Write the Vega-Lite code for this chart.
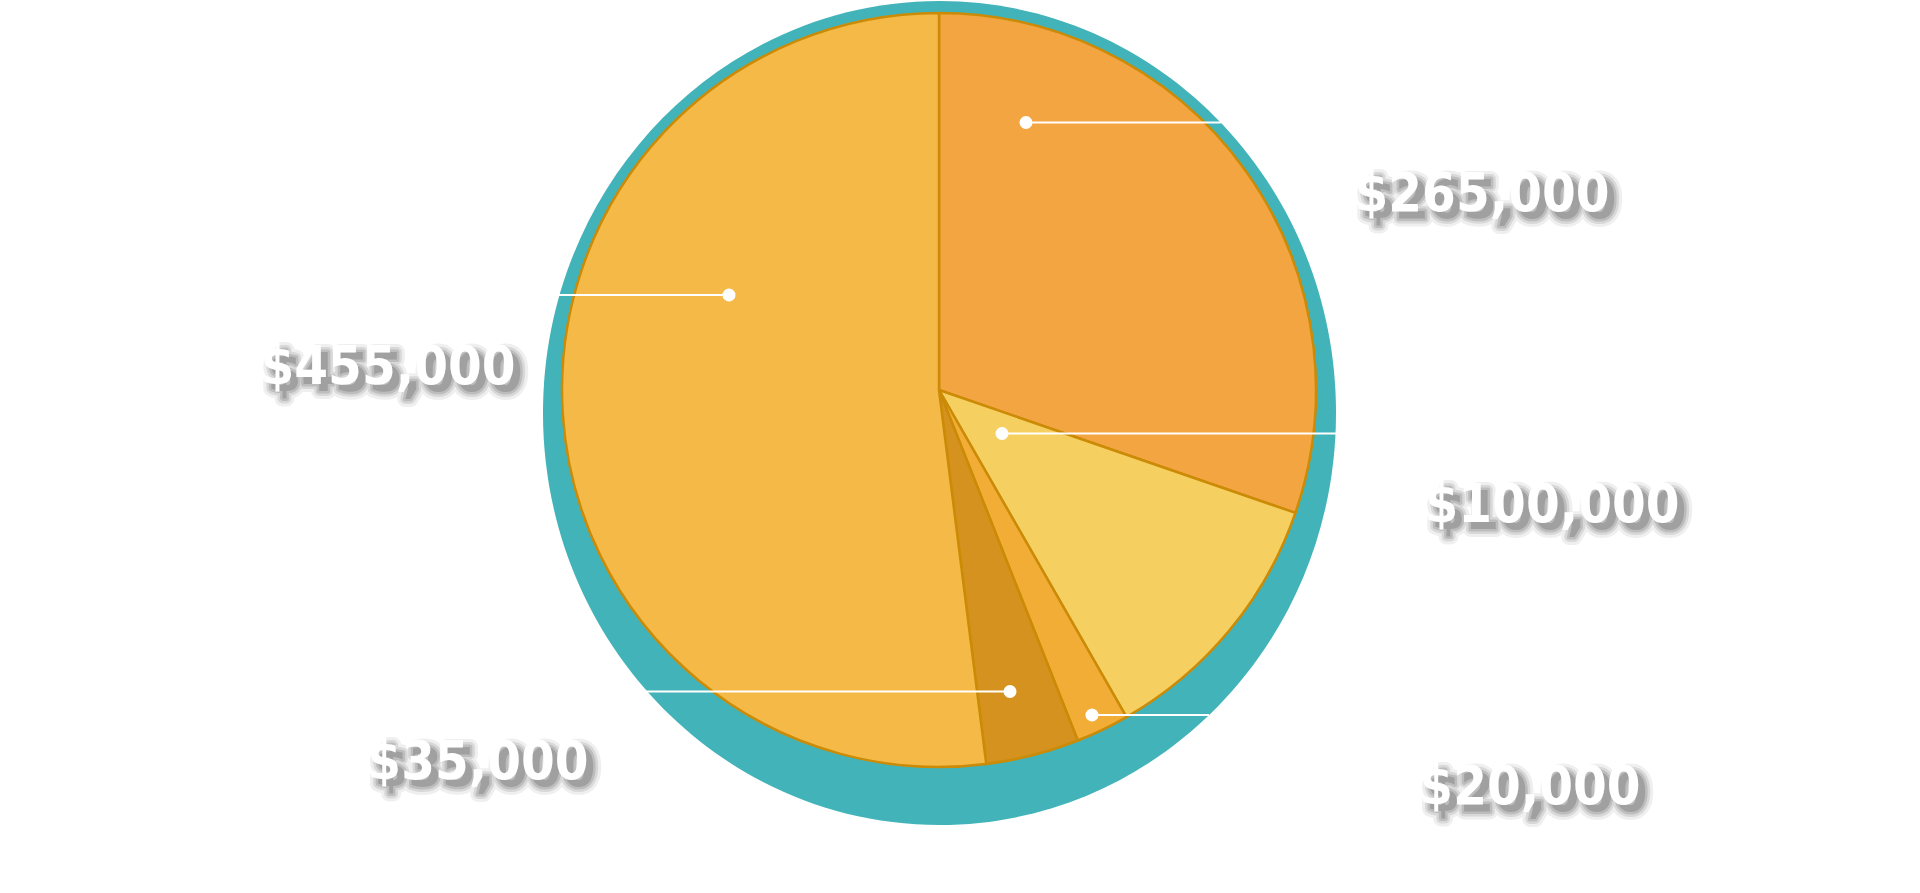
{
  "$schema": "https://vega.github.io/schema/vega-lite/v6.json",
  "width": 1878,
  "height": 780,
  "autosize": {"type": "none"},
  "padding": {"left": 0, "top": 0, "right": 42, "bottom": 113},
  "background": "#ffffff",
  "config": {"view": {"stroke": null}},
  "datasets": {
    "slices": [
      {"label": "$265,000", "value": 265000, "order": 1},
      {"label": "$100,000", "value": 100000, "order": 2},
      {"label": "$20,000", "value": 20000, "order": 3},
      {"label": "$35,000", "value": 35000, "order": 4},
      {"label": "$455,000", "value": 455000, "order": 5}
    ],
    "backdrop": [{"cx": 939.5, "cy": 413}],
    "leaders": [
      {"label": "$265,000", "dot": 1026, "end": 1221, "y": 122.5},
      {"label": "$455,000", "dot": 729, "end": 557, "y": 295},
      {"label": "$100,000", "dot": 1002, "end": 1336, "y": 433.5},
      {"label": "$35,000", "dot": 1010, "end": 645, "y": 691.5},
      {"label": "$20,000", "dot": 1092, "end": 1209, "y": 715}
    ],
    "labels": [
      {"label": "$265,000", "lx": 1482, "ly": 211},
      {"label": "$455,000", "lx": 388, "ly": 384},
      {"label": "$100,000", "lx": 1552, "ly": 522},
      {"label": "$35,000", "lx": 478, "ly": 779},
      {"label": "$20,000", "lx": 1530, "ly": 804}
    ]
  },
  "layer": [
    {
      "data": {"name": "backdrop"},
      "mark": {
        "type": "point",
        "filled": true,
        "shape": "M 0,-1 C 0.5315,-1 0.9624,-0.5523 0.9624,0 C 0.9624,0.5523 0.5315,1 0,1 C -0.5315,1 -0.9624,0.5523 -0.9624,0 C -0.9624,-0.5523 -0.5315,-1 0,-1 Z",
        "size": 678976,
        "color": "#42B3B9",
        "opacity": 1,
        "strokeWidth": 0
      },
      "encoding": {
        "x": {"field": "cx", "type": "quantitative", "scale": {"domain": [0, 1878], "nice": false, "zero": false}, "axis": null},
        "y": {"field": "cy", "type": "quantitative", "scale": {"domain": [0, 780], "nice": false, "zero": false, "reverse": true}, "axis": null}
      }
    },
    {
      "data": {"name": "slices"},
      "mark": {"type": "arc", "outerRadius": 377, "stroke": "#CB8B06", "strokeWidth": 2.5, "strokeJoin": "round"},
      "encoding": {
        "theta": {"field": "value", "type": "quantitative", "stack": true},
        "order": {"field": "order", "type": "quantitative"},
        "color": {
          "field": "label",
          "type": "nominal",
          "legend": null,
          "scale": {
            "domain": ["$265,000", "$100,000", "$20,000", "$35,000", "$455,000"],
            "range": ["#F3A541", "#F5D061", "#F2AD37", "#D5921F", "#F4B947"]
          }
        }
      }
    },
    {
      "data": {"name": "leaders"},
      "mark": {"type": "rule", "color": "#ffffff", "strokeWidth": 2},
      "encoding": {
        "x": {"field": "dot", "type": "quantitative"},
        "x2": {"field": "end"},
        "y": {"field": "y", "type": "quantitative"}
      }
    },
    {
      "data": {"name": "leaders"},
      "mark": {"type": "point", "filled": true, "color": "#ffffff", "opacity": 1, "size": 170, "strokeWidth": 0},
      "encoding": {
        "x": {"field": "dot", "type": "quantitative"},
        "y": {"field": "y", "type": "quantitative"}
      }
    },
    {
      "data": {"name": "labels"},
      "mark": {"type": "text", "font": "DejaVu Sans Condensed", "fontWeight": "bold", "fontSize": 54, "align": "center", "baseline": "alphabetic", "dx": 7, "dy": 7, "fill": "#000000", "stroke": "#000000", "strokeWidth": 16, "strokeJoin": "round", "opacity": 0.06},
      "encoding": {
        "x": {"field": "lx", "type": "quantitative"},
        "y": {"field": "ly", "type": "quantitative"},
        "text": {"field": "label"}
      }
    },
    {
      "data": {"name": "labels"},
      "mark": {"type": "text", "font": "DejaVu Sans Condensed", "fontWeight": "bold", "fontSize": 54, "align": "center", "baseline": "alphabetic", "dx": 7, "dy": 7, "fill": "#000000", "stroke": "#000000", "strokeWidth": 10, "strokeJoin": "round", "opacity": 0.09},
      "encoding": {
        "x": {"field": "lx", "type": "quantitative"},
        "y": {"field": "ly", "type": "quantitative"},
        "text": {"field": "label"}
      }
    },
    {
      "data": {"name": "labels"},
      "mark": {"type": "text", "font": "DejaVu Sans Condensed", "fontWeight": "bold", "fontSize": 54, "align": "center", "baseline": "alphabetic", "dx": 7, "dy": 7, "fill": "#000000", "stroke": "#000000", "strokeWidth": 5, "strokeJoin": "round", "opacity": 0.12},
      "encoding": {
        "x": {"field": "lx", "type": "quantitative"},
        "y": {"field": "ly", "type": "quantitative"},
        "text": {"field": "label"}
      }
    },
    {
      "data": {"name": "labels"},
      "mark": {"type": "text", "font": "DejaVu Sans Condensed", "fontWeight": "bold", "fontSize": 54, "align": "center", "baseline": "alphabetic", "dx": 7, "dy": 7, "fill": "#000000", "opacity": 0.15},
      "encoding": {
        "x": {"field": "lx", "type": "quantitative"},
        "y": {"field": "ly", "type": "quantitative"},
        "text": {"field": "label"}
      }
    },
    {
      "data": {"name": "labels"},
      "mark": {"type": "text", "font": "DejaVu Sans Condensed", "fontWeight": "bold", "fontSize": 54, "align": "center", "baseline": "alphabetic", "fill": "#ffffff", "opacity": 1},
      "encoding": {
        "x": {"field": "lx", "type": "quantitative"},
        "y": {"field": "ly", "type": "quantitative"},
        "text": {"field": "label"}
      }
    }
  ]
}
